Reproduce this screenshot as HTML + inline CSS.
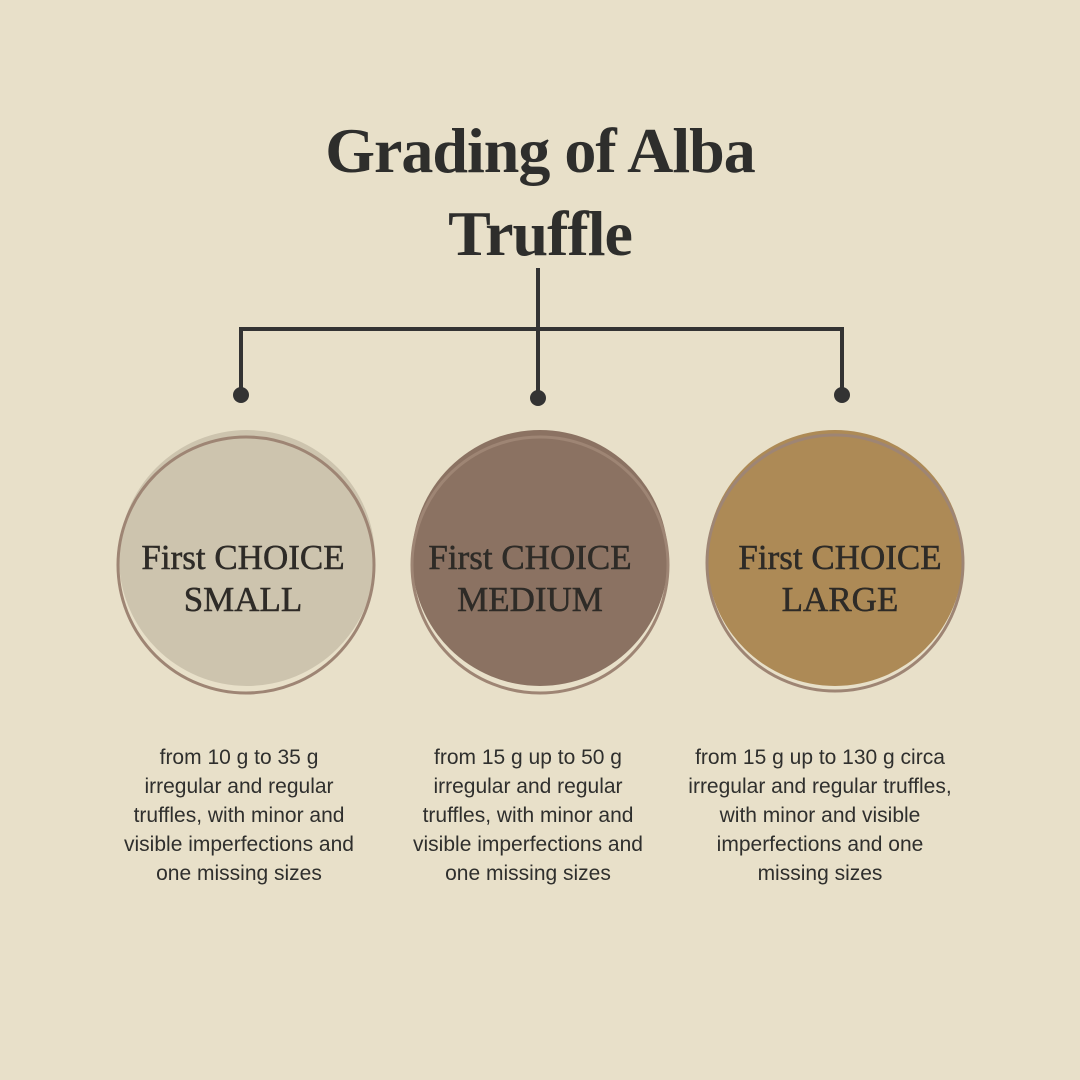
<!DOCTYPE html>
<html><head><style>
body{margin:0;background:#e8e0c9;}
#c{position:relative;width:1080px;height:1080px;overflow:hidden;background:#e8e0c9;font-family:"Liberation Sans",sans-serif;}
.t{position:absolute;left:0;width:1080px;text-align:center;font-family:"Liberation Serif",serif;font-weight:bold;font-size:64px;color:#2e2e2c;letter-spacing:-1px;}
.lbl{position:absolute;width:320px;text-align:center;font-family:"Liberation Serif",serif;font-size:35px;line-height:42px;color:#2e2b27;-webkit-text-stroke:0.5px #2e2b27;}
.d{position:absolute;width:320px;text-align:center;font-size:21px;line-height:29px;color:#2f2f2d;}
</style></head><body><div id="c">
<div class="t" style="top:114px;">Grading of Alba</div>
<div class="t" style="top:197px;">Truffle</div>
<svg width="1080" height="1080" style="position:absolute;left:0;top:0">
<g stroke="#333" stroke-width="4" fill="none">
<line x1="538" y1="268" x2="538" y2="398"/>
<polyline points="241,395 241,329 842,329 842,395"/>
</g>
<g fill="#333"><circle cx="241" cy="395" r="8"/><circle cx="538" cy="398" r="8"/><circle cx="842" cy="395" r="8"/></g>
<circle cx="247" cy="558" r="128" fill="#cdc4ae"/>
<circle cx="246" cy="565" r="128" fill="none" stroke="#9e8574" stroke-width="3"/>
<circle cx="540" cy="558" r="128" fill="#8b7262"/>
<circle cx="540" cy="565" r="128" fill="none" stroke="#9e8574" stroke-width="3"/>
<circle cx="835" cy="558" r="128" fill="#ad8a56"/>
<circle cx="835" cy="563" r="128" fill="none" stroke="#9e8574" stroke-width="3"/>
</svg>
<div class="lbl" style="left:83px;top:537px;">First CHOICE<br>SMALL</div>
<div class="lbl" style="left:370px;top:537px;">First CHOICE<br>MEDIUM</div>
<div class="lbl" style="left:680px;top:537px;">First CHOICE<br>LARGE</div>
<div class="d" style="left:79px;top:743px;">from 10 g to 35 g<br>irregular and regular<br>truffles, with minor and<br>visible imperfections and<br>one missing sizes</div>
<div class="d" style="left:368px;top:743px;">from 15 g up to 50 g<br>irregular and regular<br>truffles, with minor and<br>visible imperfections and<br>one missing sizes</div>
<div class="d" style="left:660px;top:743px;">from 15 g up to 130 g circa<br>irregular and regular truffles,<br>with minor and visible<br>imperfections and one<br>missing sizes</div>
</div></body></html>
